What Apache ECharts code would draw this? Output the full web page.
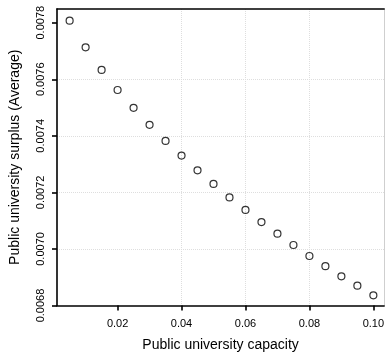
<!DOCTYPE html>
<html>
<head>
<meta charset="utf-8">
<script src="https://cdn.jsdelivr.net/npm/echarts@6/dist/echarts.min.js"></script>
<style>
  html, body { margin: 0; padding: 0; background: #fff; }
  #chart { width: 387px; height: 358px; }
</style>
</head>
<body>
<div id="chart"></div>
<script>
// Public university capacity vs. average surplus
const capacity = [0.005, 0.010, 0.015, 0.020, 0.025, 0.030, 0.035, 0.040, 0.045, 0.050,
                  0.055, 0.060, 0.065, 0.070, 0.075, 0.080, 0.085, 0.090, 0.095, 0.100];
const surplus = [0.007807, 0.007713, 0.007633, 0.007562, 0.007499, 0.007439, 0.007382, 0.007330,
                 0.007278, 0.007230, 0.007182, 0.007138, 0.007095, 0.007054, 0.007014, 0.006975,
                 0.006939, 0.006903, 0.006870, 0.006836];
const xTicks = [0.02, 0.04, 0.06, 0.08, 0.10];
const yTicks = [0.0068, 0.0070, 0.0072, 0.0074, 0.0076, 0.0078];

const FONT = '"Liberation Sans", Arial, Helvetica, sans-serif';
const gridLine = {
  show: true,
  showMinLine: false,
  showMaxLine: false,
  lineStyle: { color: '#dedede', type: 'dotted', width: 1 }
};
const frame = { color: '#000', width: 1.6 };

const chart = echarts.init(document.getElementById('chart'), null, { renderer: 'canvas' });
chart.setOption({
  backgroundColor: '#fff',
  animation: false,
  grid: { left: 55, right: 1, top: 9, bottom: 52.5, containLabel: false },
  xAxis: [{
    type: 'value',
    min: 0.00105,
    max: 0.10337,
    interval: 0.02,
    name: 'Public university capacity',
    nameLocation: 'middle',
    nameGap: 33,
    nameTextStyle: { fontFamily: FONT, fontSize: 14, color: '#000' },
    axisLine: { show: true, onZero: false, lineStyle: frame },
    axisTick: { show: true, length: 5, customValues: xTicks, lineStyle: frame },
    axisLabel: {
      customValues: xTicks,
      margin: 13,
      fontFamily: FONT, fontSize: 11, color: '#000',
      formatter: v => v.toFixed(2)
    },
    splitLine: gridLine,
    z: 5
  }, {
    type: 'value',
    position: 'top',
    min: 0, max: 1,
    axisLine: { show: true, onZero: false, lineStyle: frame },
    axisTick: { show: false },
    axisLabel: { show: false },
    splitLine: { show: false },
    z: 5
  }],
  yAxis: [{
    type: 'value',
    min: 0.0068,
    max: 0.0078484,
    interval: 0.0002,
    name: 'Public university surplus (Average)',
    nameLocation: 'middle',
    nameGap: 35,
    nameRotate: 90,
    nameTextStyle: { fontFamily: FONT, fontSize: 14, color: '#000' },
    axisLine: { show: true, onZero: false, lineStyle: frame },
    axisTick: { show: true, length: 5, customValues: yTicks, lineStyle: frame },
    axisLabel: {
      customValues: yTicks,
      rotate: 90,
      margin: 11,
      fontFamily: FONT, fontSize: 11, color: '#000',
      formatter: v => v.toFixed(4)
    },
    splitLine: gridLine,
    z: 5
  }, {
    type: 'value',
    position: 'right',
    min: 0, max: 1,
    axisLine: { show: true, onZero: false, lineStyle: { color: '#cfcfcf', width: 1 } },
    axisTick: { show: false },
    axisLabel: { show: false },
    splitLine: { show: false },
    z: 1
  }],
  series: [{
    type: 'scatter',
    xAxisIndex: 0,
    yAxisIndex: 0,
    data: capacity.map((c, i) => [c, surplus[i]]),
    symbol: 'circle',
    symbolSize: 7,
    itemStyle: { color: 'rgba(255,255,255,0)', borderColor: '#000', borderWidth: 1.2 },
    z: 10
  }]
});
</script>
</body>
</html>
